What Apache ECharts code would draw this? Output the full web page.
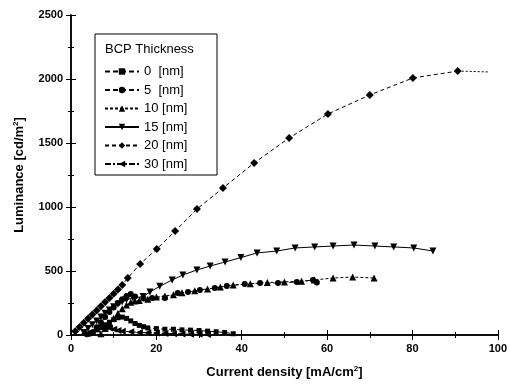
<!DOCTYPE html>
<html><head><meta charset="utf-8">
<script src="https://cdn.jsdelivr.net/npm/echarts@6/dist/echarts.min.js"></script>
<style>html,body{margin:0;padding:0;background:#fff}#c{width:510px;height:390px}</style>
</head><body><div id="c"></div>
<script>
const xTicks = [0, 20, 40, 60, 80, 100];
const yTicks = [0, 500, 1000, 1500, 2000, 2500];
const legendTitle = 'BCP Thickness';
const names = ['0  [nm]', '5  [nm]', '10 [nm]', '15 [nm]', '20 [nm]', '30 [nm]'];

const nm0 = [[4,5],[5,20],[6,40],[7,60],[8,80],[9,100],[10,120],[11,135],[12,140],[13,130],[14,110],[15,90],[16,75],[17,65],[18,55],[20,50],[22,45],[24,45],[26,40],[28,38],[30,35],[32,30],[34,25],[36,20],[38,10]];
const nm5 = [[5,20],[6,60],[7,100],[8,140],[9,180],[10,215],[11,250],[12,280],[13,305],[14,320],[15,300],[17,285],[19,290],[22,289],[25,328],[27.4,336],[30.2,352],[33.7,367],[36.5,383],[40.7,398],[44.3,406],[48.5,406],[52.9,414],[56.7,430],[57.6,410]];
const nm10 = [[7,10],[8,50],[9,90],[10,130],[11,170],[12,205],[13,235],[14,255],[15,265],[16,270],[18,280],[20,297],[22,305],[24,315],[26,330],[29,345],[32,360],[35,375],[38,390],[42,400],[46,410],[50,415],[54,420],[57,430],[61.4,445],[66,453],[71,445]];
const nm15 = [[3,20],[4,50],[5,80],[6,110],[7,140],[8,170],[9,195],[10,220],[11,240],[12,260],[13,275],[14.5,290],[16.9,300],[18.5,336],[20.8,380],[23.7,430],[26.2,469],[29.5,508],[32.6,539],[36.1,570],[39.8,605],[43.6,641],[48.2,656],[52.5,680],[57.1,688],[61.4,695],[66.3,703],[71.2,695],[75.6,688],[80.3,680],[84.8,656]];
const nm20 = [[1,30],[2,62],[3,95],[4,128],[5,160],[6,192],[7,225],[8,258],[9,290],[10,322],[11,355],[12,390],[13.3,445],[16.2,555],[20.1,672],[24.4,812],[29.5,984],[35.6,1148],[42.9,1344],[51.1,1539],[60.2,1727],[70,1875],[80.1,2008],[90.6,2062]];
const nm20tail = [[90.6,2062],[98,2055]];
const nm30 = [[3,5],[4,15],[5,30],[6,45],[7,55],[8,60],[9,55],[10,45],[11,35],[12,30],[14,25],[16,20],[18,18],[20,15],[22,12],[24,10],[26,8],[28,6],[30,5],[32,4]];

const font = '"Liberation Sans", Arial, sans-serif';
const seriesDefs = [
  {name: names[0], data: nm0, symbol: 'rect', size: 5, rot: 0, type: [5,3]},
  {name: names[1], data: nm5, symbol: 'circle', size: 6, rot: 0, type: [5,3]},
  {name: names[2], data: nm10, symbol: 'triangle', size: 7, rot: 0, type: [3,2]},
  {name: names[3], data: nm15, symbol: 'triangle', size: 7, rot: 180, type: 'solid'},
  {name: names[4], data: nm20, symbol: 'diamond', size: 8, rot: 0, type: [4,3]},
  {name: names[5], data: nm30, symbol: 'triangle', size: 7, rot: 90, type: [6,2,2,2]}
];
const series = seriesDefs.map(d => ({
  name: d.name, type: 'line', data: d.data, symbol: d.symbol, symbolSize: d.size, symbolRotate: d.rot,
  showSymbol: true, itemStyle: {color: '#000'}, lineStyle: {color: '#000', width: 1, type: d.type},
  silent: true, animation: false, z: 3
}));
series.push({name: '_tail', type: 'line', data: nm20tail, symbol: 'none', lineStyle: {color: '#000', width: 1, type: [2,2]}, animation: false});

const chart = echarts.init(document.getElementById('c'));
chart.setOption({
  animation: false,
  backgroundColor: '#fff',
  grid: {left: 71, right: 12, top: 15, bottom: 55},
  legend: {
    data: names, orient: 'vertical', left: 99, top: 60, itemWidth: 34, itemHeight: 8, itemGap: 5.5,
    textStyle: {fontFamily: font, fontSize: 13, color: '#000'}, inactiveColor: '#000'
  },
  graphic: [
    {type: 'rect', shape: {x: 95, y: 34, width: 122, height: 141}, style: {fill: 'none', stroke: '#000', lineWidth: 1}, z: 10},
    {type: 'text', left: 105, top: 43, style: {text: legendTitle, font: '13px ' + font, fill: '#000'}, z: 10}
  ],
  xAxis: [
    {type: 'value', min: 0, max: 100, interval: 20, position: 'bottom',
     name: 'Current density [mA/cm{sup|2}]', nameLocation: 'middle', nameGap: 30,
     nameTextStyle: {fontFamily: font, fontSize: 13, fontWeight: 'bold', color: '#000', rich: {sup: {fontSize: 8, fontWeight: 'bold', verticalAlign: 'top', padding: [0,0,6,0]}}},
     axisLine: {lineStyle: {color: '#000', width: 1.5}}, axisTick: {inside: true, length: 5, lineStyle: {color: '#000'}},
     minorTick: {show: true, splitNumber: 2, length: 3, lineStyle: {color: '#000'}},
     axisLabel: {fontFamily: font, fontSize: 11, fontWeight: 'bold', color: '#000', margin: 8, formatter: v => xTicks.includes(v) ? String(v) : ''},
     splitLine: {show: false}},
    {type: 'value', min: 0, max: 100, interval: 20, position: 'top',
     axisLine: {lineStyle: {color: '#000', width: 1.5}}, axisTick: {inside: true, length: 5, lineStyle: {color: '#000'}},
     minorTick: {show: true, splitNumber: 2, length: 3, lineStyle: {color: '#000'}},
     axisLabel: {show: false}, splitLine: {show: false}}
  ],
  yAxis: [
    {type: 'value', min: 0, max: 2500, interval: 500, position: 'left',
     name: 'Luminance [cd/m{sup|2}]', nameLocation: 'middle', nameGap: 45,
     nameTextStyle: {fontFamily: font, fontSize: 13, fontWeight: 'bold', color: '#000', rich: {sup: {fontSize: 8, fontWeight: 'bold', verticalAlign: 'top', padding: [0,0,6,0]}}},
     axisLine: {show: true, lineStyle: {color: '#000', width: 1.5}}, axisTick: {show: true, inside: true, length: 5, lineStyle: {color: '#000'}},
     minorTick: {show: true, splitNumber: 2, length: 3, lineStyle: {color: '#000'}},
     axisLabel: {fontFamily: font, fontSize: 11, fontWeight: 'bold', color: '#000', margin: 8, formatter: v => yTicks.includes(v) ? String(v) : ''},
     splitLine: {show: false}},
    {type: 'value', min: 0, max: 2500, interval: 500, position: 'right',
     axisLine: {show: true, lineStyle: {color: '#000', width: 1.5}}, axisTick: {show: true, inside: true, length: 5, lineStyle: {color: '#000'}},
     minorTick: {show: true, splitNumber: 2, length: 3, lineStyle: {color: '#000'}},
     axisLabel: {show: false}, splitLine: {show: false}}
  ],
  series: series
});
</script></body></html>
